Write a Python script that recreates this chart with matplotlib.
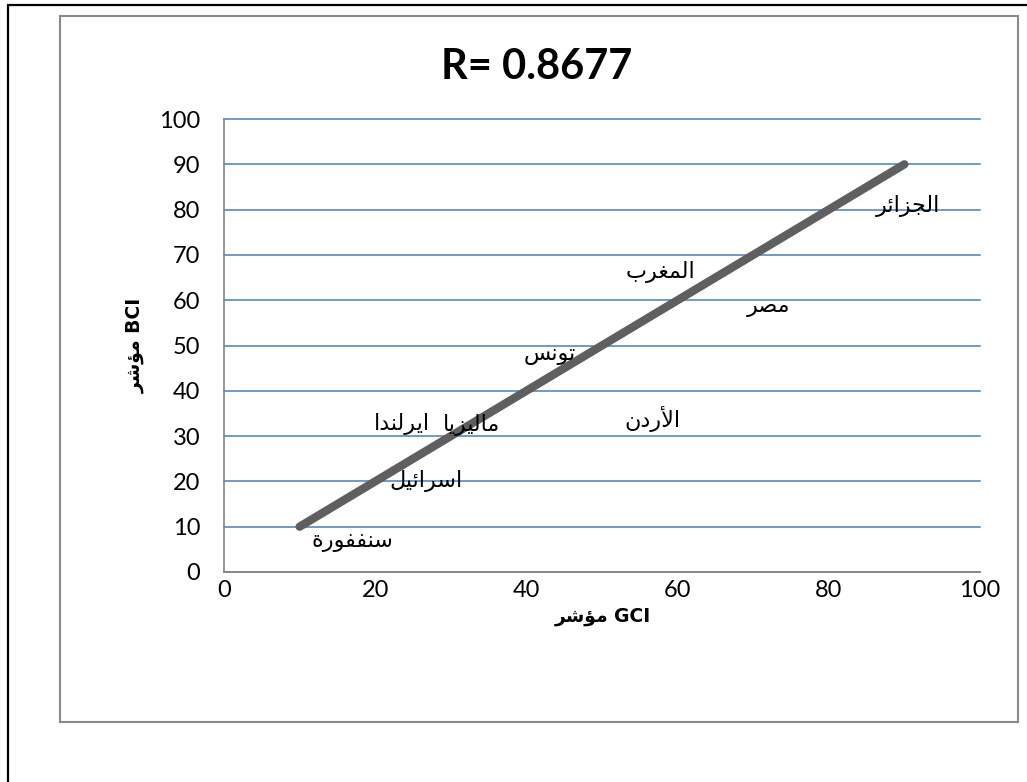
import matplotlib
matplotlib.use("Agg")
import matplotlib.pyplot as plt
from matplotlib.patches import Rectangle

# ---------------- data ----------------
title_text = "R= 0.8677"
x_label = "مؤشر GCI"
y_label = "مؤشر BCI"
countries = ["سنففورة", "اسرائيل", "ايرلندا", "ماليزيا", "تونس",
             "الأردن", "المغرب", "مصر", "الجزائر"]
label_x = [17.0, 26.7, 23.5, 32.8, 43.1, 56.7, 57.8, 72.0, 90.5]
label_y = [6.6, 20.1, 32.7, 32.4, 47.8, 33.8, 66.2, 58.4, 80.8]
trend_x = [10, 90]
trend_y = [10, 90]
x_ticks = [0, 20, 40, 60, 80, 100]
y_ticks = [0, 10, 20, 30, 40, 50, 60, 70, 80, 90, 100]

# ------------- simple Arabic shaping (presentation forms, visual order) -------------
FORMS = {
    'ا': ('\uFE8D', '\uFE8E', None, None),
    'أ': ('\uFE83', '\uFE84', None, None),
    'ؤ': ('\uFE85', '\uFE86', None, None),
    'ئ': ('\uFE89', '\uFE8A', '\uFE8B', '\uFE8C'),
    'ب': ('\uFE8F', '\uFE90', '\uFE91', '\uFE92'),
    'ة': ('\uFE93', '\uFE94', None, None),
    'ت': ('\uFE95', '\uFE96', '\uFE97', '\uFE98'),
    'ج': ('\uFE9D', '\uFE9E', '\uFE9F', '\uFEA0'),
    'د': ('\uFEA9', '\uFEAA', None, None),
    'ر': ('\uFEAD', '\uFEAE', None, None),
    'ز': ('\uFEAF', '\uFEB0', None, None),
    'س': ('\uFEB1', '\uFEB2', '\uFEB3', '\uFEB4'),
    'ش': ('\uFEB5', '\uFEB6', '\uFEB7', '\uFEB8'),
    'ص': ('\uFEB9', '\uFEBA', '\uFEBB', '\uFEBC'),
    'غ': ('\uFECD', '\uFECE', '\uFECF', '\uFED0'),
    'ف': ('\uFED1', '\uFED2', '\uFED3', '\uFED4'),
    'ل': ('\uFEDD', '\uFEDE', '\uFEDF', '\uFEE0'),
    'م': ('\uFEE1', '\uFEE2', '\uFEE3', '\uFEE4'),
    'ن': ('\uFEE5', '\uFEE6', '\uFEE7', '\uFEE8'),
    'و': ('\uFEED', '\uFEEE', None, None),
    'ي': ('\uFEF1', '\uFEF2', '\uFEF3', '\uFEF4'),
}
LAMALEF = {'ا': ('\uFEFB', '\uFEFC'), 'أ': ('\uFEF7', '\uFEF8')}


def _joins_left(c):
    return c in FORMS and FORMS[c][2] is not None


def shape_word(word):
    if not any(c in FORMS for c in word):
        return word
    out = []
    i, n = 0, len(word)
    while i < n:
        c = word[i]
        if c not in FORMS:
            out.append(c)
            i += 1
            continue
        prev = word[i - 1] if i > 0 else ''
        jp = _joins_left(prev)
        if c == 'ل' and i + 1 < n and word[i + 1] in LAMALEF:
            out.append(LAMALEF[word[i + 1]][1 if jp else 0])
            i += 2
            continue
        nxt = word[i + 1] if i + 1 < n else ''
        jn = _joins_left(c) and nxt in FORMS
        iso, fin, ini, med = FORMS[c]
        out.append(med if (jp and jn) else fin if jp else ini if jn else iso)
        i += 1
    return ''.join(reversed(out))


def shape(text):
    return ' '.join(shape_word(w) for w in text.split(' '))


# ---------------- figure ----------------
W, H = 1027, 782
fig = plt.figure(figsize=(W / 100, H / 100), dpi=100)
fig.patch.set_facecolor('white')

# outer black border (cropped at right/bottom)
fig.add_artist(Rectangle((8 / W, -0.2), 1.5, 1.2 - 5 / H, transform=fig.transFigure,
                         fill=False, edgecolor='black', linewidth=1.6))
# chart area frame
fig.add_artist(Rectangle((60 / W, 1 - 722 / H), (1018 - 60) / W, (722 - 16) / H,
                         transform=fig.transFigure, fill=False,
                         edgecolor='#8a8a8a', linewidth=1.5))

ax = fig.add_axes([224 / W, 1 - 572 / H, (980 - 224) / W, (572 - 119) / H])
ax.set_xlim(0, 100)
ax.set_ylim(0, 100)
ax.set_xticks(x_ticks)
ax.set_yticks(y_ticks)
ax.tick_params(length=0, labelsize=17, colors='black')
ax.tick_params(axis='y', pad=17)
ax.tick_params(axis='x', pad=6)
for lab in ax.get_xticklabels() + ax.get_yticklabels():
    lab.set_family('Lato')

ax.grid(axis='y', color='#4a7ebb', linewidth=1.1)
for gl in ax.get_ygridlines():
    gl.set_clip_on(False)
ax.set_axisbelow(True)
for s in ['top', 'right']:
    ax.spines[s].set_visible(False)
for s in ['left', 'bottom']:
    ax.spines[s].set_color('#868686')
    ax.spines[s].set_linewidth(1.2)
    ax.spines[s].set_zorder(3)

ax.plot(trend_x, trend_y, color='#5f5f5f', linewidth=6, solid_capstyle='round', zorder=4)

for name, lx, ly in zip(countries, label_x, label_y):
    ax.text(lx, ly, shape(name), ha='center', va='center', fontsize=16,
            family=['DejaVu Sans'], color='black', zorder=5)

fig.text(537 / W, 1 - 67 / H, title_text, ha='center', va='center', fontsize=30,
         fontweight='bold', family='Lato')
fig.text(603 / W, 1 - 616 / H, shape(x_label), ha='center', va='center', fontsize=13.5,
         fontweight='bold', family=['DejaVu Sans'])
fig.text(135 / W, 1 - 345 / H, shape(y_label), ha='center', va='center', fontsize=13.5,
         fontweight='bold', family=['DejaVu Sans'], rotation=90)

fig.savefig('out.png', dpi=100, facecolor='white')
